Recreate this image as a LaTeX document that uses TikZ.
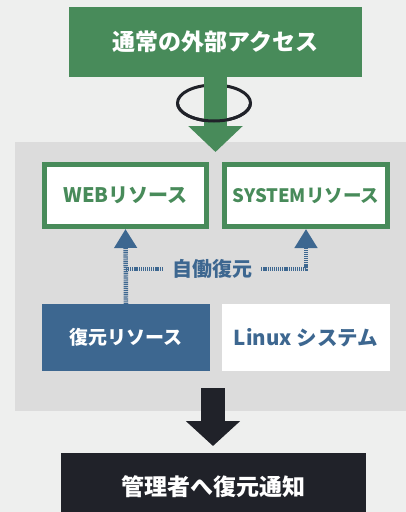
\documentclass[tikz,border=0pt]{standalone}
\usepackage{fontspec}
\setmainfont{Noto Sans CJK JP}
\usetikzlibrary{arrows.meta}
\definecolor{bgc}{RGB}{238,239,238}
\definecolor{panelc}{RGB}{220,220,220}
\definecolor{greenc}{RGB}{72,139,90}
\definecolor{bluec}{RGB}{61,103,144}
\definecolor{darkc}{RGB}{32,34,41}
\tikzset{
  box/.style={rectangle, inner sep=0pt, font=\bfseries},
  greenbox/.style={box, draw=greenc, line width=5pt, fill=white, text=greenc, minimum width=162pt, minimum height=62pt},
  bluedash/.style={draw=bluec, line width=4.5pt, dash pattern=on 1.2pt off 0.9pt},
  bluearrow/.style={bluedash, -{Triangle[width=22pt,length=19pt]}},
}
\begin{document}
\begin{tikzpicture}[x=1pt,y=-1pt]
\path[use as bounding box, clip] (0,0) rectangle (406,512);
\fill[bgc] (0,0) rectangle (406,512);
\node[fill=panelc, minimum width=391pt, minimum height=269pt, inner sep=0pt] (panel) at (210.5,276.5) {};
% top box
\node[box, fill=greenc, text=white, minimum width=293pt, minimum height=70pt, font=\bfseries\fontsize{23pt}{23pt}\selectfont] (top) at (215.5,42) {通常の外部アクセス};
% ring
\coordinate (ringc) at (214,103);
\draw[darkc, line width=3pt] (ringc) ellipse[x radius=36.5, y radius=18];
% green arrow
\coordinate (gtip) at (215.5,152);
\draw[greenc, line width=23pt, -{Triangle[width=53pt,length=26pt]}] (top.south) -- (gtip);
\begin{scope}
\clip (170,104) rectangle (260,130);
\draw[darkc, line width=3pt] (ringc) ellipse[x radius=36.5, y radius=18];
\end{scope}
% resource boxes
\node[greenbox, font=\bfseries\fontsize{20pt}{20pt}\selectfont] (web) at (125.5,195.5) {WEBリソース};
\node[greenbox, minimum width=163pt, font=\bfseries\fontsize{18.5pt}{18.5pt}\selectfont] (sys) at (306,195.5) {SYSTEMリソース};
\node[box, fill=bluec, text=white, minimum width=168pt, minimum height=67pt, font=\bfseries\fontsize{19pt}{19pt}\selectfont] (rest) at (126,337.5) {復元リソース};
\node[box, fill=white, text=bluec, minimum width=168pt, minimum height=67pt, font=\bfseries\fontsize{20.5pt}{20.5pt}\selectfont] (linux) at (306,337.5) {Linux システム};
% auto restore
\node[box, text=bluec, inner xsep=9pt, font=\bfseries\fontsize{20pt}{20pt}\selectfont] (auto) at (212,269) {自働復元};
\draw[bluearrow] (rest.north) -- (web.south);
\draw[bluedash] (auto.west) -- (auto.west -| web.south);
\draw[bluearrow] (auto.east) -- (auto.east -| sys.south) -- (sys.south);
% bottom
\coordinate (bstart) at (213,388);
\coordinate (btip) at (213,446);
\draw[darkc, line width=24pt, -{Triangle[width=53pt,length=25pt]}] (bstart) -- (btip);
\node[box, fill=darkc, text=white, minimum width=305pt, minimum height=68pt, font=\bfseries\fontsize{23pt}{23pt}\selectfont] (notify) at (213.5,487) {管理者へ復元通知};
\end{tikzpicture}
\end{document}
